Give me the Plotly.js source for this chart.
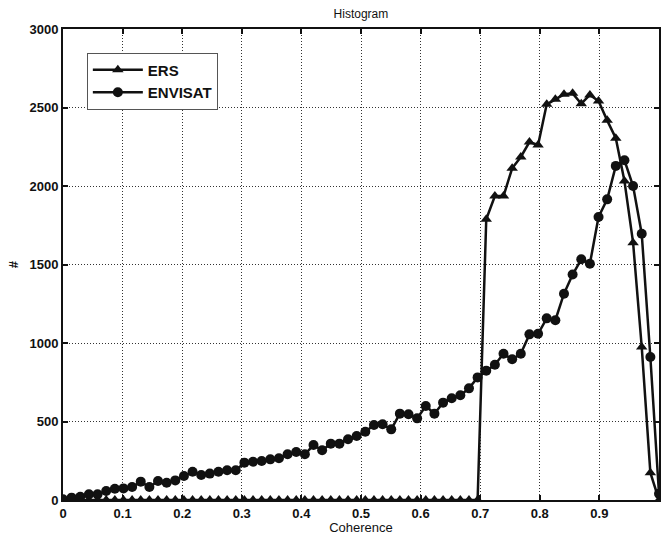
<!DOCTYPE html>
<html>
<head>
<meta charset="utf-8">
<script src="https://cdn.plot.ly/plotly-3.0.1.min.js"></script>
<style>html,body{margin:0;padding:0;background:#fff;}#chart{width:661px;height:535px;}</style>
</head>
<body>
<div id="chart"></div>
<script>
// 70 histogram bins spanning coherence 0..1
const binCount = 70;
const coherence = Array.from({length: binCount}, (_, k) => k / (binCount - 1));

const ersValues = [
  0,0,0,0,0,0,0,0,0,0,
  0,0,0,0,0,0,0,0,0,0,
  0,0,0,0,0,0,0,0,0,0,
  0,0,0,0,0,0,0,0,0,0,
  0,0,0,0,0,0,0,0,0,1788,
  1936,1936,2113,2185,2280,2261,2520,2552,2584,2590,
  2524,2580,2541,2418,2304,2032,1639,975,174,0
];

const envisatValues = [
  5,15,21,36,36,57,72,74,83,117,
  83,121,110,125,153,180,159,168,180,189,
  189,238,244,248,259,266,291,306,291,350,
  317,359,359,387,408,435,478,482,450,550,
  546,520,599,550,620,648,667,711,781,824,
  862,932,896,932,1055,1059,1157,1145,1314,1436,
  1533,1505,1803,1915,2128,2164,2000,1696,911,40
];

const xTicks = [0,0.1,0.2,0.3,0.4,0.5,0.6,0.7,0.8,0.9,1];
const xTickText = ['0','0.1','0.2','0.3','0.4','0.5','0.6','0.7','0.8','0.9','1'];
const yTicks = [0,500,1000,1500,2000,2500,3000];
const seriesNames = ['ERS', 'ENVISAT'];

const font = 'Liberation Sans, Arial, sans-serif';

const traces = [
  {x: coherence, y: ersValues, name: seriesNames[0], type: 'scatter', mode: 'lines+markers',
   line: {color: '#111', width: 2.5}, marker: {symbol: 'triangle-up', size: 10, color: '#111'}},
  {x: coherence, y: envisatValues, name: seriesNames[1], type: 'scatter', mode: 'lines+markers',
   line: {color: '#111', width: 2.5}, marker: {symbol: 'circle', size: 10, color: '#111'}}
];

const axisCommon = {
  showline: true, linecolor: '#111', linewidth: 2, mirror: 'ticks',
  ticks: 'inside', ticklen: 5, tickwidth: 2, tickcolor: '#111',
  showgrid: true, gridcolor: '#333', griddash: '1px,2px', gridwidth: 1,
  zeroline: false, tickfont: {family: font, size: 13, color: '#111', weight: 'bold'}
};

const layout = {
  width: 661, height: 535,
  margin: {l: 63, r: 2, t: 29, b: 35},
  paper_bgcolor: '#fff', plot_bgcolor: '#fff',
  title: {text: 'Histogram', font: {family: font, size: 12, color: '#111'}, x: 0.546, xanchor: 'center', y: 0.975, yanchor: 'middle'},
  xaxis: Object.assign({}, axisCommon, {
    range: [0, 1], tickvals: xTicks, ticktext: xTickText,
    title: {text: 'Coherence', font: {family: font, size: 13, color: '#111'}, standoff: 2}
  }),
  yaxis: Object.assign({}, axisCommon, {
    range: [0, 3000], tickvals: yTicks,
    title: {text: '#', font: {family: font, size: 13, color: '#111', weight: 'bold'}, standoff: 8}
  }),
  showlegend: true,
  legend: {
    x: 0.04, y: 0.95, xanchor: 'left', yanchor: 'top',
    bgcolor: '#fff', bordercolor: '#555', borderwidth: 1,
    font: {family: font, size: 15, color: '#111', weight: 'bold'},
    tracegroupgap: 4, itemwidth: 50, entrywidth: 150, entrywidthmode: 'pixels'
  }
};

Plotly.newPlot('chart', traces, layout, {displayModeBar: false, staticPlot: true});
</script>
</body>
</html>
